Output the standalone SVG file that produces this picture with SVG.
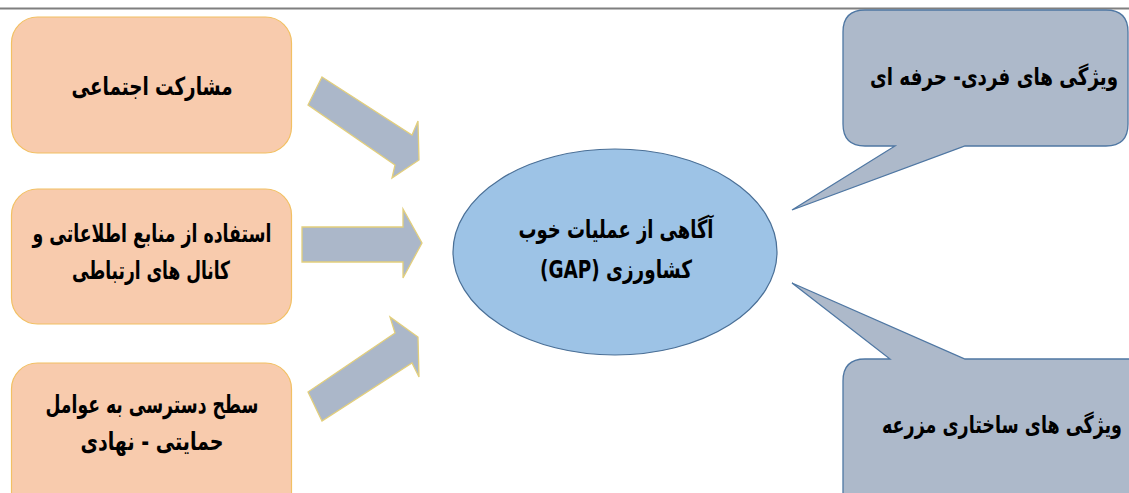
<svg xmlns="http://www.w3.org/2000/svg" width="1129" height="493" viewBox="0 0 1129 493">
<style>
.box{fill:#f8cbad;stroke:#f2c063;stroke-width:1.2}
.arrow{fill:#abb7c9;stroke:#e3cf7c;stroke-width:1.3}
.ell{fill:#9dc3e6;stroke:#4a6f96;stroke-width:1.2}
.call{fill:#adb9ca;stroke:#4f77a3;stroke-width:1.3}
.t{font-family:"DejaVu Sans",sans-serif;font-weight:bold;font-size:25px;fill:#000;text-anchor:middle;direction:rtl}
.tc{font-size:24px}
</style>
<rect width="1129" height="493" fill="#fff"/>
<line x1="0" y1="8.5" x2="1129" y2="8.5" stroke="#7f7f7f" stroke-width="2"/>
<g id="n1"><rect class="box" x="11.5" y="17" width="280" height="136" rx="26"/><text class="t" x="152" y="95" textLength="161" lengthAdjust="spacingAndGlyphs">مشارکت اجتماعی</text></g>
<g id="n2"><rect class="box" x="11.5" y="189" width="280" height="135" rx="26"/><text class="t" x="152" y="242" textLength="239" lengthAdjust="spacingAndGlyphs">استفاده از منابع اطلاعاتی و</text><text class="t" x="151" y="279" textLength="158" lengthAdjust="spacingAndGlyphs">کانال های ارتباطی</text></g>
<g id="n3"><rect class="box" x="11.5" y="363" width="280" height="160" rx="26"/><text class="t" x="152" y="413" textLength="213" lengthAdjust="spacingAndGlyphs">سطح دسترسی به عوامل</text><text class="t" x="152" y="450" textLength="143" lengthAdjust="spacingAndGlyphs">حمایتی - نهادی</text></g>
<g id="n4"><ellipse class="ell" cx="615" cy="252" rx="162" ry="103"/><text class="t" x="616" y="238" textLength="195" lengthAdjust="spacingAndGlyphs">آگاهی از عملیات خوب</text><text class="t" x="616" y="278" textLength="152" lengthAdjust="spacingAndGlyphs">کشاورزی (GAP)</text></g>
<g id="n5"><path class="call" d="M865,10 H1106 Q1128,10 1128,32 V124 Q1128,146 1106,146 H965 L792,210 L895,146 H865 Q843,146 843,124 V32 Q843,10 865,10 Z"/><text class="t tc" x="994" y="85" textLength="248" lengthAdjust="spacingAndGlyphs">ویژگی های فردی- حرفه ای</text></g>
<g id="n6"><path class="call" d="M865,359 H890 L792,283 L965,359 H1140 V510 H843 V381 Q843,359 865,359 Z"/><text class="t tc" x="1002" y="433" textLength="240" lengthAdjust="spacingAndGlyphs">ویژگی های ساختاری مزرعه</text></g>
<g id="connectors">
<polygon class="arrow" points="322,77 412,135 418,121 419,160 392,178 395,165 308,105"/>
<polygon class="arrow" points="302,227 403,227 403,209 422,243 403,278 403,262 302,262"/>
<polygon class="arrow" points="308,392 395,333 390,317 418,337 419,377 412,363 322,421"/>
</g>
</svg>
